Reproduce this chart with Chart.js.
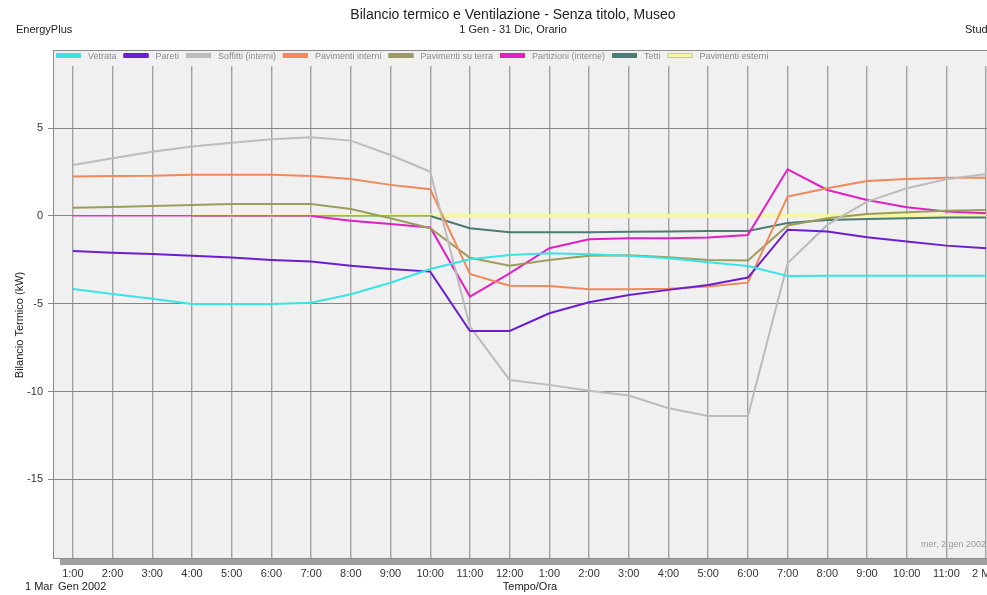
<!DOCTYPE html>
<html lang="it">
<head>
    <meta charset="UTF-8">
    <title>Bilancio termico e Ventilazione</title>
    <script src="https://cdn.jsdelivr.net/npm/chart.js"></script>
    <style>
        html, body { margin: 0; padding: 0; background: #fff; overflow: hidden; }
        #chart { display: block; }
    </style>
</head>
<body>
    <canvas id="chart" width="1026" height="595"></canvas>

    <script>
        // ore (asse X)
        const hours = ['1:00', '2:00', '3:00', '4:00', '5:00', '6:00', '7:00', '8:00', '9:00', '10:00', '11:00', '12:00',
                       '1:00', '2:00', '3:00', '4:00', '5:00', '6:00', '7:00', '8:00', '9:00', '10:00', '11:00', '2 Mer'];

        const seriesNames = ['Vetrata', 'Pareti', 'Soffitti (interni)', 'Pavimenti interni', 'Pavimenti su terra',
                             'Partizioni (interne)', 'Tetti', 'Pavimenti esterni'];

        // valori in kW
        const vetrata    = [-4.16, -4.44, -4.71, -5.01, -5.01, -5.01, -4.94, -4.46, -3.80, -3.02, -2.47, -2.22, -2.13, -2.18, -2.26, -2.41, -2.64, -2.85, -3.42, -3.40, -3.40, -3.40, -3.40, -3.40];
        const pareti     = [-1.99, -2.09, -2.16, -2.26, -2.37, -2.51, -2.60, -2.83, -3.02, -3.17, -6.55, -6.55, -5.54, -4.92, -4.50, -4.21, -3.93, -3.51, -0.78, -0.89, -1.21, -1.46, -1.69, -1.84];
        const soffitti   = [2.90, 3.28, 3.66, 3.95, 4.17, 4.37, 4.48, 4.29, 3.47, 2.52, -6.30, -9.34, -9.62, -9.95, -10.23, -10.95, -11.39, -11.39, -2.70, -0.51, 0.82, 1.58, 2.09, 2.39];
        const pavInterni = [2.24, 2.28, 2.29, 2.35, 2.35, 2.35, 2.28, 2.11, 1.77, 1.52, -3.30, -3.97, -3.99, -4.18, -4.18, -4.14, -4.02, -3.80, 1.10, 1.58, 1.99, 2.11, 2.18, 2.18];
        const pavTerra   = [0.47, 0.51, 0.57, 0.63, 0.68, 0.68, 0.68, 0.40, -0.13, -0.70, -2.38, -2.83, -2.51, -2.26, -2.24, -2.35, -2.51, -2.54, -0.54, -0.13, 0.11, 0.21, 0.30, 0.34];
        const partizioni = [0, 0, 0, 0, 0, 0, 0, -0.27, -0.46, -0.66, -4.59, -3.27, -1.84, -1.33, -1.27, -1.27, -1.23, -1.08, 2.66, 1.48, 0.91, 0.49, 0.25, 0.15];
        const tetti      = [null, null, null, 0, 0, 0, 0, 0, 0, 0, -0.70, -0.93, -0.93, -0.93, -0.90, -0.88, -0.86, -0.85, -0.40, -0.23, -0.17, -0.13, -0.09, -0.09];
        const pavEsterni = [null, null, null, 0, 0, 0, 0, 0, 0, 0, 0, 0, 0, 0, 0, 0, 0, 0, 0, 0, 0, 0, 0, 0];

        const colors = ['#3ae4e4', '#6a1ed0', '#bcbcbc', '#f0885a', '#9c9c5c', '#e020c4', '#4b7b72', '#f6f6a8'];
        const FONT = "'Liberation Sans', Arial, sans-serif";

        // linee a zero disegnate sottili
        const zeroThin = ctx => (ctx.p0.parsed.y === 0 && ctx.p1.parsed.y === 0) ? 1 : 2;

        const values = [vetrata, pareti, soffitti, pavInterni, pavTerra, partizioni, tetti, pavEsterni];
        const datasets = values.map((v, i) => ({
            label: seriesNames[i],
            data: v,
            borderColor: colors[i],
            backgroundColor: colors[i],
            borderWidth: i === 7 ? 4 : 2,
            pointRadius: 0,
            tension: 0,
            spanGaps: false,
            order: i === 7 ? 10 : i,
            segment: (i === 5 || i === 6) ? { borderWidth: zeroThin } : undefined
        }));

        const framePlugin = {
            id: 'frame',
            beforeDraw(chart) {
                const c = chart.ctx, a = chart.chartArea;
                c.save();
                c.fillStyle = '#f0f0f0';
                c.fillRect(a.left, 50, a.right - a.left, a.bottom - 50);
                c.restore();
            },
            afterDraw(chart) {
                const c = chart.ctx, a = chart.chartArea;
                c.save();
                // cornice
                c.strokeStyle = '#8a8a8a';
                c.lineWidth = 1;
                c.strokeRect(a.left + 0.5, 50.5, a.right - a.left, a.bottom - 50);
                // banda sotto il grafico
                c.fillStyle = '#a0a0a0';
                c.fillRect(a.left + 7, a.bottom + 1, a.right - a.left - 7, 6);

                // legenda
                c.font = '9px ' + FONT;
                c.textBaseline = 'middle';
                let x = 56;
                chart.data.datasets.forEach(ds => {
                    c.fillStyle = ds.borderColor;
                    c.fillRect(x, 54, 25, 4);
                    c.strokeStyle = ds.label === 'Pavimenti esterni' ? '#c8c890' : ds.borderColor;
                    c.lineWidth = 1;
                    c.strokeRect(x + 0.5, 53.5, 24, 4);
                    c.fillStyle = '#8c8c8c';
                    c.fillText(ds.label, x + 32, 56.5);
                    x += 32 + c.measureText(ds.label).width + 7;
                });

                // testi
                c.fillStyle = '#222';
                c.textBaseline = 'middle';
                c.textAlign = 'center';
                c.font = '14px ' + FONT;
                c.fillText('Bilancio termico e Ventilazione - Senza titolo, Museo', 513, 15);
                c.font = '11px ' + FONT;
                c.fillText('1 Gen - 31 Dic, Orario', 513, 30);
                c.fillText('Tempo/Ora', 530, 587);
                c.textAlign = 'left';
                c.fillText('EnergyPlus', 16, 30);
                c.fillText('Studio', 965, 30);
                c.fillText('1 Mar', 25, 587);
                c.fillText('Gen 2002', 58, 587);

                c.fillStyle = '#9a9a9a';
                c.font = '9px ' + FONT;
                c.textAlign = 'right';
                c.fillText('mer, 2 gen 2002', 986, 545);

                c.fillStyle = '#222';
                c.font = '11px ' + FONT;
                c.textAlign = 'center';
                c.translate(20, 325);
                c.rotate(-Math.PI / 2);
                c.fillText('Bilancio Termico (kW)', 0, 0);
                c.restore();
            }
        };

        new Chart(document.getElementById('chart'), {
            type: 'line',
            data: { labels: hours, datasets: datasets },
            options: {
                responsive: false,
                animation: false,
                devicePixelRatio: 1,
                layout: { padding: { top: 66, right: 20, left: 0, bottom: 0 } },
                plugins: {
                    legend: { display: false },
                    title: { display: false },
                    tooltip: { enabled: false }
                },
                scales: {
                    x: {
                        type: 'category',
                        offset: true,
                        afterFit(scale) { scale.height = 37; },
                        grid: { color: '#a2a2a2', lineWidth: 1.4, drawTicks: false, offset: false },
                        border: { display: false },
                        ticks: {
                            autoSkip: false, maxRotation: 0, minRotation: 0, padding: 9,
                            color: '#333', font: { family: FONT, size: 11 }
                        }
                    },
                    y: {
                        min: -19.48,
                        max: 8.54,
                        afterFit(scale) { scale.width = 53; },
                        grid: { color: '#858585', lineWidth: 1, tickLength: 5, drawTicks: true },
                        border: { display: false },
                        ticks: {
                            stepSize: 5, includeBounds: false, padding: 5,
                            color: '#333', font: { family: FONT, size: 11 }
                        }
                    }
                }
            },
            plugins: [framePlugin]
        });
    </script>
</body>
</html>
